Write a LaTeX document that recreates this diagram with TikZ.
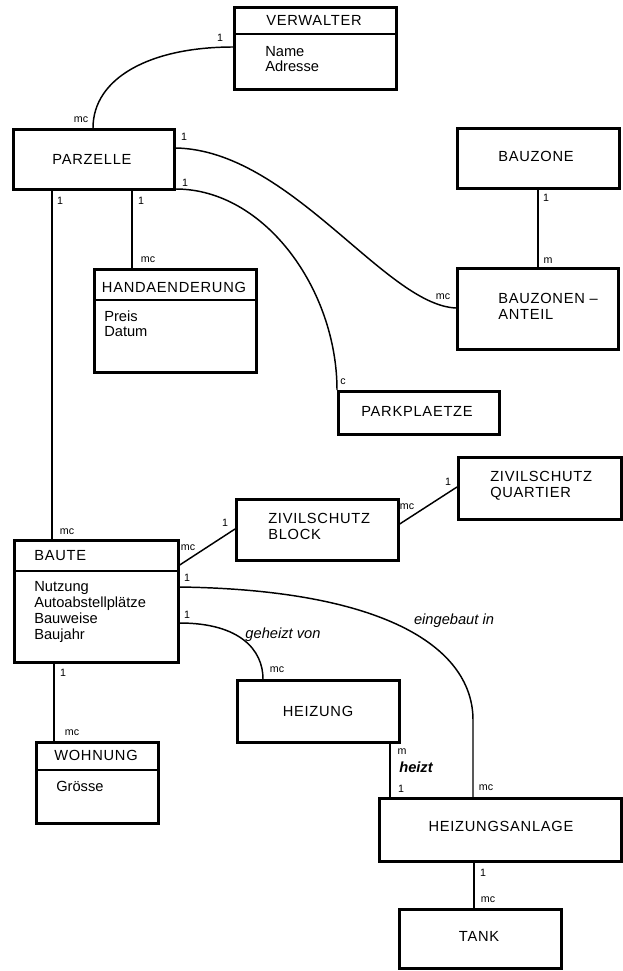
\documentclass[tikz,border=0pt]{standalone}
\usepackage{fontspec}
\setmainfont{Liberation Sans}
\newfontfamily\capsfont[LetterSpace=5]{Liberation Sans}
\begin{document}
\begin{tikzpicture}[x=0.75pt,y=-0.75pt,
  ebox/.style n args={2}{draw, line width=2pt, inner sep=0pt, anchor=north west,
    minimum width=#1*0.75pt, minimum height=#2*0.75pt},
  divider/.style={line width=0.9pt},
  conn/.style={line width=1.1pt},
  ttl/.style={font=\capsfont\fontsize{11}{12}\selectfont, inner sep=0pt, anchor=base},
  ttll/.style={font=\capsfont\fontsize{11}{12}\selectfont, inner sep=0pt, anchor=base west},
  attr/.style={font=\fontsize{11}{12}\selectfont, inner sep=0pt, anchor=base west},
  card/.style={font=\fontsize{8}{9}\selectfont, inner sep=0pt},
  rel/.style={font=\itshape\fontsize{11}{12}\selectfont, inner sep=0pt}]
\useasboundingbox (0,0) rectangle (622,971);

% ---------- boxes ----------
\node[ebox={162}{82}]  (verwalter) at (233,6) {};
\node[ebox={161}{60}]  (parzelle)  at (12,128) {};
\node[ebox={162}{103}] (hand)      at (93,268) {};
\node[ebox={162}{60}]  (bauzone)   at (456,127) {};
\node[ebox={161}{81}]  (bza)       at (456,267) {};
\node[ebox={161}{43}]  (park)      at (337,390) {};
\node[ebox={162}{61}]  (zb)        at (235,498) {};
\node[ebox={163}{62}]  (zq)        at (457,456) {};
\node[ebox={164}{122}] (baute)     at (13,539) {};
\node[ebox={162}{62}]  (heizung)   at (236,679) {};
\node[ebox={122}{81}]  (wohnung)   at (35,741) {};
\node[ebox={242}{63}]  (hza)       at (378,797) {};
\node[ebox={162}{59}]  (tank)      at (398,908) {};

% ---------- dividers ----------
\draw[divider] (verwalter.west |- 0,34) -- (verwalter.east |- 0,34);
\draw[divider] (hand.west |- 0,300) -- (hand.east |- 0,300);
\draw[divider] (baute.west |- 0,571) -- (baute.east |- 0,571);
\draw[divider] (wohnung.west |- 0,770) -- (wohnung.east |- 0,770);

% ---------- texts ----------
\node[ttl] (tverwalter) at (314,25) {VERWALTER};
\node[attr] (averw1) at (265,56) {Name};
\node[attr] (averw2) at (265,71) {Adresse};
\node[ttl] (tparzelle) at (92,164) {PARZELLE};
\node[ttl] (thand) at (174,292) {HANDAENDERUNG};
\node[attr] (ahand1) at (104,321) {Preis};
\node[attr] (ahand2) at (104,336) {Datum};
\node[ttl] (tbauzone) at (536,161) {BAUZONE};
\node[ttll] (tbza1) at (498,303) {BAUZONEN –};
\node[ttll] (tbza2) at (498,319) {ANTEIL};
\node[ttl] (tpark) at (417,416) {PARKPLAETZE};
\node[ttll] (tzb1) at (268,523) {ZIVILSCHUTZ};
\node[ttll] (tzb2) at (268,539) {BLOCK};
\node[ttll] (tzq1) at (490,481) {ZIVILSCHUTZ};
\node[ttll] (tzq2) at (490,497) {QUARTIER};
\node[ttll] (tbaute) at (34,560) {BAUTE};
\node[attr] (abaute1) at (34,591) {Nutzung};
\node[attr] (abaute2) at (34,607) {Autoabstellplätze};
\node[attr] (abaute3) at (34,623) {Bauweise};
\node[attr] (abaute4) at (34,639) {Baujahr};
\node[ttl] (theizung) at (318,716) {HEIZUNG};
\node[ttl] (twohnung) at (96,760) {WOHNUNG};
\node[attr] (awohnung) at (56,791) {Grösse};
\node[ttl] (thza) at (501,831) {HEIZUNGSANLAGE};
\node[ttl] (ttank) at (479,941) {TANK};

% ---------- connectors ----------
\draw[conn] (verwalter.west |- 0,47) .. controls (150,47) and (93,78) .. (93,0 |- parzelle.north);
\draw[conn] (parzelle.east |- 0,148) .. controls (290,150) and (385,305) .. (bza.west |- 0,308);
\draw[conn] (parzelle.east |- 0,189) .. controls (265,189) and (337,290) .. (337,0 |- park.north);
\draw[conn] (52,0 |- parzelle.south) -- (52,0 |- baute.north);
\draw[conn] (132,0 |- parzelle.south) -- (132,0 |- hand.north);
\draw[conn] (538,0 |- bauzone.south) -- (538,0 |- bza.north);
\draw[conn] (baute.east |- 0,565) -- (zb.west |- 0,529);
\draw[conn] (zb.east |- 0,524) -- (zq.west |- 0,487);
\draw[conn] (baute.east |- 0,587) .. controls (390,590) and (473,650) .. (473,720) -- (473,0 |- hza.north);
\draw[conn] (baute.east |- 0,623) .. controls (240,623) and (263,650) .. (263,0 |- heizung.north);
\draw[conn] (390,0 |- heizung.south) -- (390,0 |- hza.north);
\draw[conn] (54,0 |- baute.south) -- (54,0 |- wohnung.north);
\draw[conn] (474,0 |- hza.south) -- (474,0 |- tank.north);

% ---------- cardinalities ----------
\node[card] (c1) at (220,38) {1};
\node[card] (c2) at (81,120) {mc};
\node[card] (c3) at (184,137) {1};
\node[card] (c4) at (185,183) {1};
\node[card] (c5) at (60,201) {1};
\node[card] (c6) at (141,201) {1};
\node[card] (c7) at (148,260) {mc};
\node[card] (c8) at (443,297) {mc};
\node[card] (c9) at (546,198) {1};
\node[card] (c10) at (548,261) {m};
\node[card] (c11) at (343,382) {c};
\node[card] (c12) at (67,532) {mc};
\node[card] (c13) at (188,548) {mc};
\node[card] (c14) at (225,523) {1};
\node[card] (c15) at (407,507) {mc};
\node[card] (c16) at (448,482) {1};
\node[card] (c17) at (187,578) {1};
\node[card] (c18) at (187,615) {1};
\node[card] (c19) at (277,670) {mc};
\node[card] (c20) at (63,673) {1};
\node[card] (c21) at (72,733) {mc};
\node[card] (c22) at (402,752) {m};
\node[card] (c23) at (401,789) {1};
\node[card] (c24) at (486,788) {mc};
\node[card] (c25) at (483,873) {1};
\node[card] (c26) at (488,900) {mc};

% ---------- relationship names ----------
\node[rel] (r1) at (283,635) {geheizt von};
\node[rel] (r2) at (454,621) {eingebaut in};
\node[rel, font=\bfseries\itshape\fontsize{11}{12}\selectfont] (r3) at (416,767) {heizt};
\end{tikzpicture}
\end{document}
